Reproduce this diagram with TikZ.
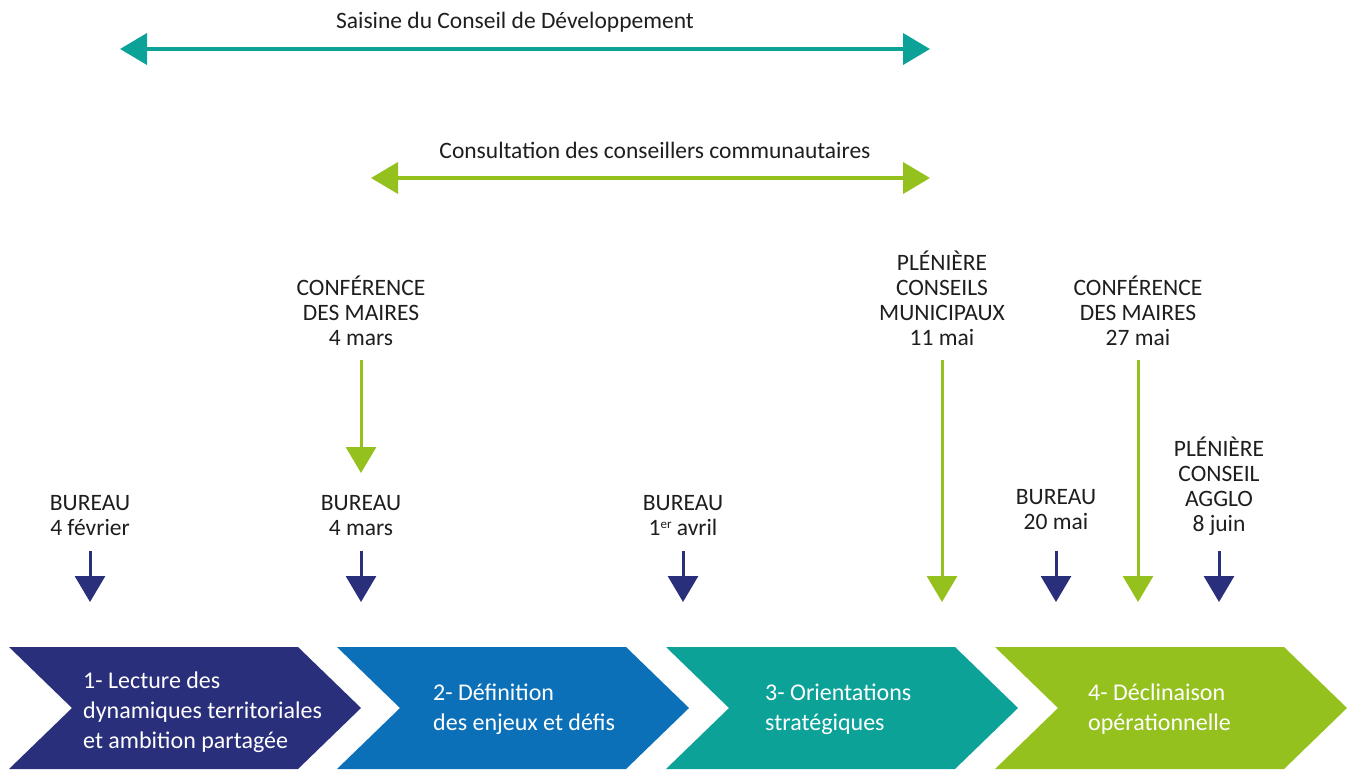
\documentclass[tikz,border=0pt]{standalone}
\usepackage{fontspec}
\setmainfont{Carlito}
\usetikzlibrary{arrows.meta}
\definecolor{navy}{HTML}{2A2F7C}
\definecolor{bluetwo}{HTML}{0B70B8}
\definecolor{tealtwo}{HTML}{0CA298}
\definecolor{limetwo}{HTML}{95C11F}
\definecolor{txt}{HTML}{1E1E1E}
\begin{document}
\begin{tikzpicture}[x=1pt,y=-1pt,
 lbl/.style={align=center, inner sep=0pt, font=\fontsize{23.5}{25}\selectfont, text=txt},
 steptxt/.style={align=left, inner sep=0pt, anchor=west, font=\fontsize{24}{30}\selectfont, text=white},
 navyarrow/.style={draw=navy, line width=3pt, -{Triangle[length=26pt,width=30pt]}},
 greenarrow/.style={draw=limetwo, line width=3pt, -{Triangle[length=26pt,width=30pt]}},
 spanarrow/.style={line width=4pt, {Triangle[length=27pt,width=31pt]}-{Triangle[length=27pt,width=31pt]}},
]
\useasboundingbox (0,0) rectangle (1348,769);

% chevrons
\fill[navy] (9,647) -- (298,647) -- (361,708) -- (298,769) -- (9,769) -- (72,708) -- cycle;
\fill[bluetwo] (337,647) -- (626,647) -- (689,708) -- (626,769) -- (337,769) -- (400,708) -- cycle;
\fill[tealtwo] (666,647) -- (955,647) -- (1018,708) -- (955,769) -- (666,769) -- (729,708) -- cycle;
\fill[limetwo] (995,647) -- (1284,647) -- (1347,708) -- (1284,769) -- (995,769) -- (1058,708) -- cycle;

\node[steptxt] (s1) at (83,712) {1- Lecture des\\dynamiques territoriales\\et ambition partagée};
\node[steptxt] (s2) at (433,709) {2- Définition\\des enjeux et défis};
\node[steptxt] (s3) at (765,709) {3- Orientations\\stratégiques};
\node[steptxt] (s4) at (1088,709) {4- Déclinaison\\opérationnelle};

% spans
\node[lbl] (t1) at (515,22) {Saisine du Conseil de Développement};
\coordinate (t1a) at (120,49);
\coordinate (t1b) at (930,49);
\draw[spanarrow, draw=tealtwo, fill=tealtwo] (t1a) -- (t1b);

\node[lbl] (t2) at (655,150) {Consultation des conseillers communautaires};
\coordinate (t2a) at (371,178);
\coordinate (t2b) at (930,178);
\draw[spanarrow, draw=limetwo, fill=limetwo] (t2a) -- (t2b);

% upper labels
\node[lbl] (cm1) at (361,311) {CONFÉRENCE\\DES MAIRES\\4 mars};
\node[lbl] (pcm) at (942,298) {PLÉNIÈRE\\CONSEILS\\MUNICIPAUX\\11 mai};
\node[lbl] (cm2) at (1138,311) {CONFÉRENCE\\DES MAIRES\\27 mai};

\coordinate (g1a) at (361,360); \coordinate (g1b) at (361,473);
\coordinate (g2a) at (942,360); \coordinate (g2b) at (942,602);
\coordinate (g3a) at (1138,360); \coordinate (g3b) at (1138,602);
\draw[greenarrow, fill=limetwo] (g1a) -- (g1b);
\draw[greenarrow, fill=limetwo] (g2a) -- (g2b);
\draw[greenarrow, fill=limetwo] (g3a) -- (g3b);

% bureau labels
\node[lbl] (b1) at (90,516) {BUREAU\\4 février};
\node[lbl] (b2) at (361,516) {BUREAU\\4 mars};
\node[lbl] (b3) at (683,516) {BUREAU\\1\raisebox{7pt}{\fontsize{13}{13}\selectfont er} avril};
\node[lbl] (b4) at (1056,510) {BUREAU\\20 mai};
\node[lbl] (pca) at (1219,486) {PLÉNIÈRE\\CONSEIL\\AGGLO\\8 juin};

\foreach \n/\x in {n1/90,n2/361,n3/683,n4/1056,n5/1219}{
  \coordinate (\n a) at (\x,551);
  \coordinate (\n b) at (\x,602);
  \draw[navyarrow, fill=navy] (\n a) -- (\n b);
}
\end{tikzpicture}
\end{document}
